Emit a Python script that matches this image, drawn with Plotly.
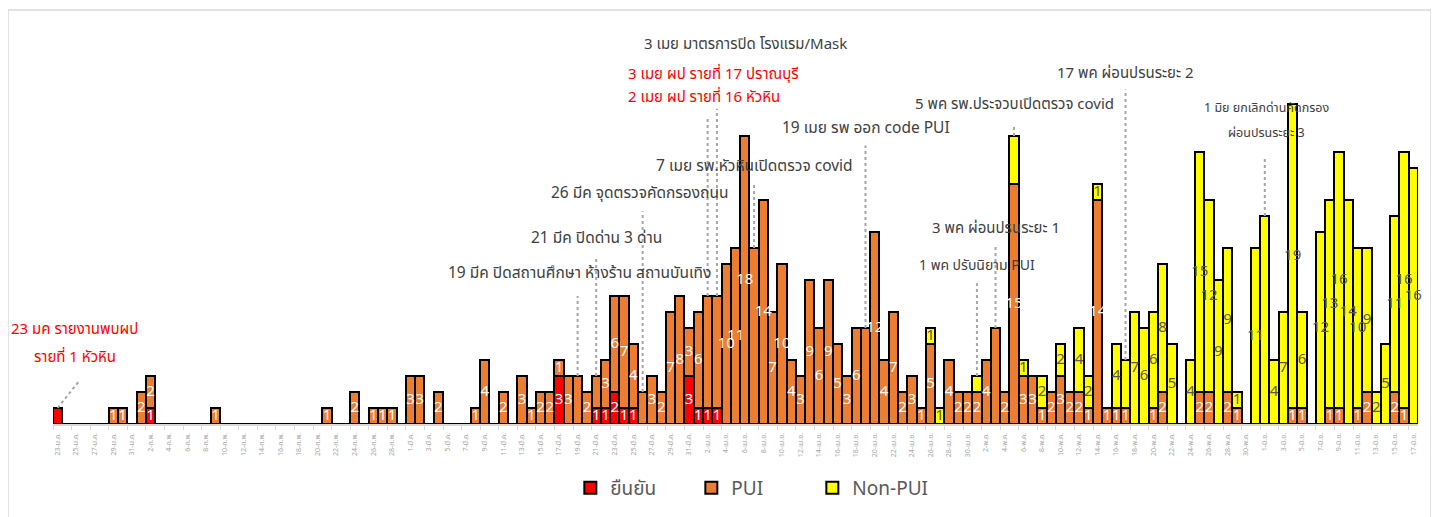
import pandas as pd
import plotly.graph_objects as go

# ---------------- data ----------------
START, END = "2020-01-23", "2020-06-17"
dates = pd.date_range(START, END, freq="D")
TH_MONTHS = ["ม.ค.", "ก.พ.", "มี.ค.", "เม.ย.", "พ.ค.", "มิ.ย."]
SERIES_NAMES = ["ยืนยัน", "PUI", "Non-PUI"]

confirmed = {
    "2020-01-23": 1, "2020-02-02": 1, "2020-03-17": 3, "2020-03-21": 1,
    "2020-03-22": 1, "2020-03-23": 2, "2020-03-24": 1, "2020-03-25": 1,
    "2020-03-31": 3, "2020-04-01": 1, "2020-04-02": 1, "2020-04-03": 1,
}

pui = {
    "2020-01-29": 1, "2020-01-30": 1, "2020-02-01": 2, "2020-02-02": 2,
    "2020-02-09": 1, "2020-02-21": 1, "2020-02-24": 2, "2020-02-26": 1,
    "2020-02-27": 1, "2020-02-28": 1, "2020-03-01": 3, "2020-03-02": 3,
    "2020-03-04": 2, "2020-03-08": 1, "2020-03-09": 4, "2020-03-11": 2,
    "2020-03-13": 3, "2020-03-14": 1, "2020-03-15": 2, "2020-03-16": 2,
    "2020-03-17": 1, "2020-03-18": 3, "2020-03-19": 3, "2020-03-20": 2,
    "2020-03-21": 2, "2020-03-22": 3, "2020-03-23": 6, "2020-03-24": 7,
    "2020-03-25": 4, "2020-03-26": 2, "2020-03-27": 3, "2020-03-28": 2,
    "2020-03-29": 7, "2020-03-30": 8, "2020-03-31": 3, "2020-04-01": 6,
    "2020-04-02": 7, "2020-04-03": 7, "2020-04-04": 10, "2020-04-05": 11,
    "2020-04-06": 18, "2020-04-07": 11, "2020-04-08": 14, "2020-04-09": 7,
    "2020-04-10": 10, "2020-04-11": 4, "2020-04-12": 3, "2020-04-13": 9,
    "2020-04-14": 6, "2020-04-15": 9, "2020-04-16": 5, "2020-04-17": 3,
    "2020-04-18": 6, "2020-04-19": 6, "2020-04-20": 12, "2020-04-21": 4,
    "2020-04-22": 7, "2020-04-23": 2, "2020-04-24": 3, "2020-04-25": 1,
    "2020-04-26": 5, "2020-04-28": 4, "2020-04-29": 2, "2020-04-30": 2,
    "2020-05-01": 2, "2020-05-02": 4, "2020-05-03": 6, "2020-05-04": 2,
    "2020-05-05": 15, "2020-05-06": 3, "2020-05-07": 3, "2020-05-08": 1,
    "2020-05-09": 2, "2020-05-10": 3, "2020-05-11": 2, "2020-05-12": 2,
    "2020-05-13": 1, "2020-05-14": 14, "2020-05-15": 1, "2020-05-16": 1,
    "2020-05-17": 1, "2020-05-20": 1, "2020-05-21": 2, "2020-05-25": 2,
    "2020-05-26": 2, "2020-05-28": 2, "2020-05-29": 1, "2020-06-04": 1,
    "2020-06-05": 1, "2020-06-08": 1, "2020-06-09": 1, "2020-06-11": 1,
    "2020-06-12": 2, "2020-06-15": 2, "2020-06-16": 1,
}

non_pui = {
    "2020-04-26": 1, "2020-04-27": 1, "2020-05-01": 1, "2020-05-05": 3,
    "2020-05-06": 1, "2020-05-08": 2, "2020-05-10": 2, "2020-05-12": 4,
    "2020-05-13": 2, "2020-05-14": 1, "2020-05-16": 4, "2020-05-17": 3,
    "2020-05-18": 7, "2020-05-19": 6, "2020-05-20": 6, "2020-05-21": 8,
    "2020-05-22": 5, "2020-05-24": 4, "2020-05-25": 15, "2020-05-26": 12,
    "2020-05-27": 9, "2020-05-28": 9, "2020-05-29": 1, "2020-05-31": 11,
    "2020-06-01": 13, "2020-06-02": 4, "2020-06-03": 7, "2020-06-04": 19,
    "2020-06-05": 6, "2020-06-07": 12, "2020-06-08": 13, "2020-06-09": 16,
    "2020-06-10": 14, "2020-06-11": 10, "2020-06-12": 9, "2020-06-13": 2,
    "2020-06-14": 5, "2020-06-15": 11, "2020-06-16": 16, "2020-06-17": 16,
}

# event notes (data labels moved away from their bar in the original)
# (date, series whose label was moved, text, colour)
events = [
    ("2020-01-23", 0, "23 มค รายงานพบผป", "red"),
    ("2020-03-19", 1, "19 มีค ปิดสถานศึกษา ห้างร้าน สถานบันเทิง", "dark"),
    ("2020-03-21", 1, "21 มีค ปิดด่าน 3 ด่าน", "dark"),
    ("2020-03-26", 1, "26 มีค จุดตรวจคัดกรองถนน", "dark"),
    ("2020-04-02", 1, "2 เมย ผป รายที่ 16 หัวหิน", "red"),
    ("2020-04-03", 1, "3 เมย ผป รายที่ 17 ปราณบุรี", "red"),
    ("2020-04-07", 1, "7 เมย รพ.หัวหินเปิดตรวจ covid", "dark"),
    ("2020-04-19", 1, "19 เมย รพ ออก code PUI", "dark"),
    ("2020-05-01", 2, "1 พค ปรับนิยาม PUI", "dark"),
    ("2020-05-03", 1, "3 พค ผ่อนปรนระยะ 1", "dark"),
    ("2020-05-05", 2, "5 พค รพ.ประจวบเปิดตรวจ covid", "dark"),
    ("2020-05-17", 2, "17 พค ผ่อนปรนระยะ 2", "dark"),
    ("2020-06-01", 2, "1 มิย ยกเลิกด่านคัดกรอง", "dark"),
]
extra_notes = [
    ("2020-01-23", "รายที่ 1 หัวหิน", "red"),
    ("2020-04-03", "3 เมย มาตรการปิด โรงแรม/Mask", "dark"),
    ("2020-06-01", "ผ่อนปรนระยะ 3", "dark"),
]

# ---------------- layout helpers (positions / styles) ----------------
COLORS = ["#ff0000", "#ed7d31", "#ffff00"]
LABEL_COLORS = ["#ffffff", "#ffffff", "#595959"]
TEXT_COL = {"red": "#ff0000", "dark": "#404040"}
FONT = "Tahoma, 'Noto Sans Thai', 'Noto Sans', sans-serif"

# note text y (in axis units), x shift (days), font size, leader top (axis units)
note_pos = {
    "23 มค รายงานพบผป": (5.9, 1.8, 15, None),
    "รายที่ 1 หัวหิน": (4.15, 1.9, 15, None),
    "19 มีค ปิดสถานศึกษา ห้างร้าน สถานบันเทิง": (9.4, 0.2, 15.5, 8.0),
    "21 มีค ปิดด่าน 3 ด่าน": (11.6, 0.0, 15.5, 10.5),
    "26 มีค จุดตรวจคัดกรองถนน": (14.4, -0.3, 15.5, 13.3),
    "2 เมย ผป รายที่ 16 หัวหิน": (20.4, -0.4, 15, 19.2),
    "3 เมย ผป รายที่ 17 ปราณบุรี": (21.85, -0.4, 15, 19.7),
    "3 เมย มาตรการปิด โรงแรม/Mask": (23.75, 3.1, 15, None),
    "7 เมย รพ.หัวหินเปิดตรวจ covid": (16.1, 0.0, 15.5, 15.0),
    "19 เมย รพ ออก code PUI": (18.5, 0.0, 15.5, 17.4),
    "1 พค ปรับนิยาม PUI": (9.9, 0.0, 14, 8.8),
    "3 พค ผ่อนปรนระยะ 1": (12.25, 0.0, 15, 11.1),
    "5 พค รพ.ประจวบเปิดตรวจ covid": (20.0, 0.0, 15, 18.6),
    "17 พค ผ่อนปรนระยะ 2": (21.9, 0.0, 15, 20.9),
    "1 มิย ยกเลิกด่านคัดกรอง": (19.7, 0.2, 12.5, 16.75),
    "ผ่อนปรนระยะ 3": (18.15, 0.2, 12.5, None),
}

# ---------------- build ----------------
keys = [d.strftime("%Y-%m-%d") for d in dates]
values = [[src.get(k, 0) for k in keys] for src in (confirmed, pui, non_pui)]
hidden = {(d, s) for d, s, _, _ in events}

fig = go.Figure()
for s, name in enumerate(SERIES_NAMES):
    fig.add_trace(go.Bar(
        x=dates, y=values[s], name=name,
        marker=dict(color=COLORS[s], line=dict(color="#000000", width=2)),
        textposition="none", hoverinfo="x+y+name",
    ))

# data labels on top of all bars
for s in range(3):
    xs, ys, ts = [], [], []
    for i, k in enumerate(keys):
        v = values[s][i]
        if v <= 0 or (k, s) in hidden:
            continue
        base = sum(values[j][i] for j in range(s))
        xs.append(dates[i]); ys.append(base + v / 2); ts.append(str(v))
    fig.add_trace(go.Scatter(
        x=xs, y=ys, text=ts, mode="text", showlegend=False, hoverinfo="skip",
        textfont=dict(size=15, color=LABEL_COLORS[s], family="'Noto Sans', sans-serif"),
        cliponaxis=False,
    ))

DAY = pd.Timedelta(days=1)
annotations, shapes = [], []
all_notes = [(d, t, c) for d, _, t, c in events] + extra_notes
for d, text, col in all_notes:
    ty, dx, fs, top = note_pos[text]
    annotations.append(dict(
        x=pd.Timestamp(d) + dx * DAY, y=ty, xref="x", yref="y", text=text,
        showarrow=False, font=dict(size=fs, color=TEXT_COL[col], family=FONT),
        xanchor="center", yanchor="middle",
    ))

for d, s, text, col in events:
    i = keys.index(d)
    total = sum(values[j][i] for j in range(3))
    ty, dx, fs, top = note_pos[text]
    if top is None:
        # diagonal leader towards the note
        x1 = pd.Timestamp(d) + 2.4 * DAY
        y1 = ty - 3.15
    else:
        x1 = pd.Timestamp(d)
        y1 = top
    shapes.append(dict(
        type="line", xref="x", yref="y", x0=pd.Timestamp(d), y0=total, x1=x1, y1=y1,
        line=dict(color="#a6a6a6", width=2, dash="dot"), layer="above",
    ))

# outer chart frame
shapes.append(dict(
    type="rect", xref="paper", yref="paper", x0=-0.033, x1=1.0095, y0=-0.4, y1=1.035,
    line=dict(color="#d9d9d9", width=1.5), fillcolor="rgba(0,0,0,0)", layer="below",
))

tickvals = list(dates[::2])
ticktext = [f"{d.day}-{TH_MONTHS[d.month - 1]}" for d in tickvals]

fig.update_layout(
    width=1439, height=517,
    margin=dict(l=45, r=29, t=16, b=101),
    paper_bgcolor="white", plot_bgcolor="white",
    barmode="stack", bargap=0,
    font=dict(family=FONT, color="#595959"),
    showlegend=True,
    legend=dict(orientation="h", x=0.379, xanchor="left", y=-0.16, yanchor="middle",
                font=dict(size=19, color="#595959", family=FONT),
                itemwidth=30, traceorder="normal",
                entrywidth=76, entrywidthmode="pixels"),
    annotations=annotations, shapes=shapes,
)
fig.update_xaxes(
    type="date",
    range=[pd.Timestamp(START) - 0.5 * DAY, pd.Timestamp(END) + 0.5 * DAY],
    tickvals=tickvals, ticktext=ticktext, tickangle=-90,
    tickfont=dict(size=7, color="#a6a6a6", family=FONT),
    showgrid=False, zeroline=False,
    showline=True, linecolor="#d9d9d9", linewidth=2,
    ticks="", ticklabelstandoff=4,
    minor=dict(ticks="outside", tick0=pd.Timestamp(START) - 0.5 * DAY,
               dtick=2 * 86400000, ticklen=4, tickcolor="#d9d9d9", showgrid=False),
)
fig.update_yaxes(range=[0, 25], visible=False, showgrid=False, zeroline=False)

fig.write_html("out.html")
